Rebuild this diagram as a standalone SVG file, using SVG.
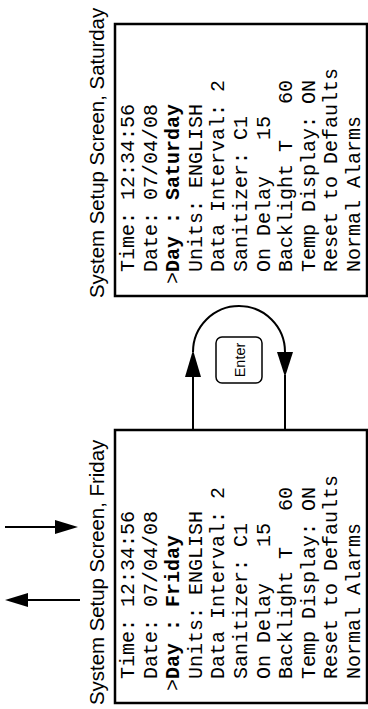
<svg xmlns="http://www.w3.org/2000/svg" width="368" height="709" viewBox="0 0 368 709">
<style>
.box{fill:#fff;stroke:#000;stroke-width:2.5}
.mono{font-family:"Liberation Mono","Courier New",monospace;font-size:20px;fill:#000;white-space:pre}
.title{font-family:"Liberation Sans",Arial,sans-serif;font-size:20.4px;fill:#000}
.b{font-weight:bold}
.ln{fill:none;stroke:#000;stroke-width:2}
.key{fill:#fff;stroke:#000;stroke-width:1.5}
.keyt{font-family:"Liberation Sans",Arial,sans-serif;font-size:14.5px;fill:#000;text-anchor:middle}
</style>
<g id="screen-saturday">
<rect class="box" x="115" y="24" width="252" height="272"/>
<text class="title" transform="rotate(-90)" x="-298" y="104">System Setup Screen, Saturday</text>
<g class="mono" transform="rotate(-90)">
<text x="-272" y="134">Time: 12:34:56</text>
<text x="-272" y="156.6">Date: 07/04/08</text>
<text x="-284" y="179.2">&gt;<tspan class="b">Day : Saturday</tspan></text>
<text x="-272" y="201.8">Units: ENGLISH</text>
<text x="-272" y="224.4">Data Interval: 2</text>
<text x="-272" y="247">Sanitizer: C1</text>
<text x="-272" y="269.6">On Delay&#160;&#160;&#160;15</text>
<text x="-272" y="292.2">Backlight T&#160;&#160;&#160;60</text>
<text x="-272" y="314.8">Temp Display: ON</text>
<text x="-272" y="337.4">Reset to Defaults</text>
<text x="-272" y="360">Normal Alarms</text>
</g>
</g>
<g id="screen-friday">
<rect class="box" x="115" y="430" width="252" height="273"/>
<text class="title" transform="rotate(-90)" x="-705" y="104">System Setup Screen, Friday</text>
<g class="mono" transform="rotate(-90)">
<text x="-679" y="134">Time: 12:34:56</text>
<text x="-679" y="156.6">Date: 07/04/08</text>
<text x="-691" y="179.2">&gt;<tspan class="b">Day : Friday</tspan></text>
<text x="-679" y="201.8">Units: ENGLISH</text>
<text x="-679" y="224.4">Data Interval: 2</text>
<text x="-679" y="247">Sanitizer: C1</text>
<text x="-679" y="269.6">On Delay&#160;&#160;&#160;15</text>
<text x="-679" y="292.2">Backlight T&#160;&#160;&#160;60</text>
<text x="-679" y="314.8">Temp Display: ON</text>
<text x="-679" y="337.4">Reset to Defaults</text>
<text x="-679" y="360">Normal Alarms</text>
</g>
</g>
<g id="enter-key">
<rect class="key" x="216" y="337" width="46" height="46" rx="6"/>
<text class="keyt" transform="rotate(-90)" x="-360" y="244.5">Enter</text>
</g>
<g id="connectors">
<line class="ln" x1="193" y1="429" x2="193" y2="374"/>
<polygon points="193,350 185,377 201,377"/>
<path class="ln" d="M193,352 A46,46 0 0 1 285,352"/>
<polygon points="277,352 293,352 285,377"/>
<line class="ln" x1="285" y1="375" x2="285" y2="429"/>
<line class="ln" x1="5" y1="527" x2="58" y2="527"/>
<polygon points="78,527 55,520 55,534"/>
<line class="ln" x1="27" y1="600" x2="80" y2="600"/>
<polygon points="5,600 28,593 28,607"/>
</g>
</svg>
